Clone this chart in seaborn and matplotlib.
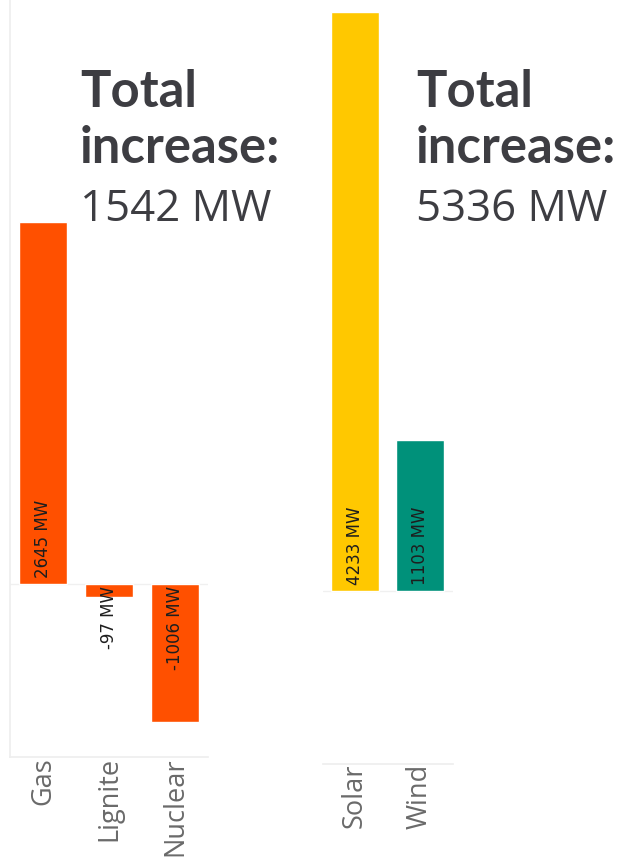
import matplotlib
matplotlib.use("Agg")
import matplotlib.pyplot as plt
import seaborn as sns
import pandas as pd

sns.set_theme(style="white")
plt.rcParams['font.family'] = ['Open Sans', 'DejaVu Sans']

# ---- data ----
fossil_cats = ["Gas", "Lignite", "Nuclear"]
fossil_vals = [2645, -97, -1006]
fossil_colors = ["#FF5000", "#FF5000", "#FF5000"]
fossil_total = "1542 MW"

renew_cats = ["Solar", "Wind"]
renew_vals = [4233, 1103]
renew_colors = ["#FFC800", "#00917A"]
renew_total = "5336 MW"

title_bold_1 = "Total"
title_bold_2 = "increase:"
unit = "MW"

W, H = 624, 857
fig = plt.figure(figsize=(W / 100, H / 100), dpi=100)
fig.patch.set_facecolor("white")

YMIN, YMAX = -1265, 4269


def px_axes(x0, x1, ytop, ybot):
    return fig.add_axes([x0 / W, (H - ybot) / H, (x1 - x0) / W, (ybot - ytop) / H])


def draw_panel(ax, cats, vals, colors, show_left):
    df = pd.DataFrame({"cat": cats, "val": vals})
    sns.barplot(data=df, x="cat", y="val", hue="cat", palette=dict(zip(cats, colors)),
                legend=False, ax=ax, width=0.74, saturation=1)
    ax.set_ylim(YMIN, YMAX)
    ax.set_xlim(-0.5, len(cats) - 0.5)
    ax.axhline(0, color="#f0f0f0", lw=1, zorder=0)
    ax.set_xlabel("")
    ax.set_ylabel("")
    ax.set_yticks([])
    ax.tick_params(axis="x", length=0, pad=0, labelsize=19.5, labelcolor="#6a6a6a")
    for lab in ax.get_xticklabels():
        lab.set_rotation(90)
    for s in ["top", "right"]:
        ax.spines[s].set_visible(False)
    ax.spines["left"].set_visible(show_left)
    ax.spines["left"].set_color("#eeeeee")
    ax.spines["bottom"].set_color("#eeeeee")
    ax.set_facecolor("white")
    lab_font = ["DejaVu Sans"]
    for i, v in enumerate(vals):
        if v >= 0:
            ax.annotate(f"{v} {unit}", xy=(i, 0), xytext=(0, 6), textcoords="offset pixels",
                        rotation=90, ha="center", va="bottom", fontsize=12,
                        color="#1e1e1e", family=lab_font)
        else:
            ax.annotate(f"{v} {unit}", xy=(i, 0), xytext=(0, -2), textcoords="offset pixels",
                        rotation=90, ha="center", va="top", fontsize=12,
                        color="#1e1e1e", family=lab_font)


ax1 = px_axes(10, 208, 0, 757)
draw_panel(ax1, fossil_cats, fossil_vals, fossil_colors, True)

ax2 = px_axes(322.5, 452.5, 7, 764)
draw_panel(ax2, renew_cats, renew_vals, renew_colors, False)

tcol = "#3d3d42"
for x0, total in [(80, fossil_total), (416, renew_total)]:
    fig.text(x0 / W, 1 - 107 / H, title_bold_1, fontsize=36.5, fontweight="bold",
             color=tcol, ha="left", va="baseline", family=["Lato", "DejaVu Sans"])
    fig.text(x0 / W, 1 - 163 / H, title_bold_2, fontsize=36.5, fontweight="bold",
             color=tcol, ha="left", va="baseline", family=["Lato", "DejaVu Sans"])
    fig.text(x0 / W, 1 - 221 / H, total, fontsize=31.5, color=tcol,
             ha="left", va="baseline", family=["Open Sans", "DejaVu Sans"])

fig.savefig("out.png", dpi=100, facecolor="white")
